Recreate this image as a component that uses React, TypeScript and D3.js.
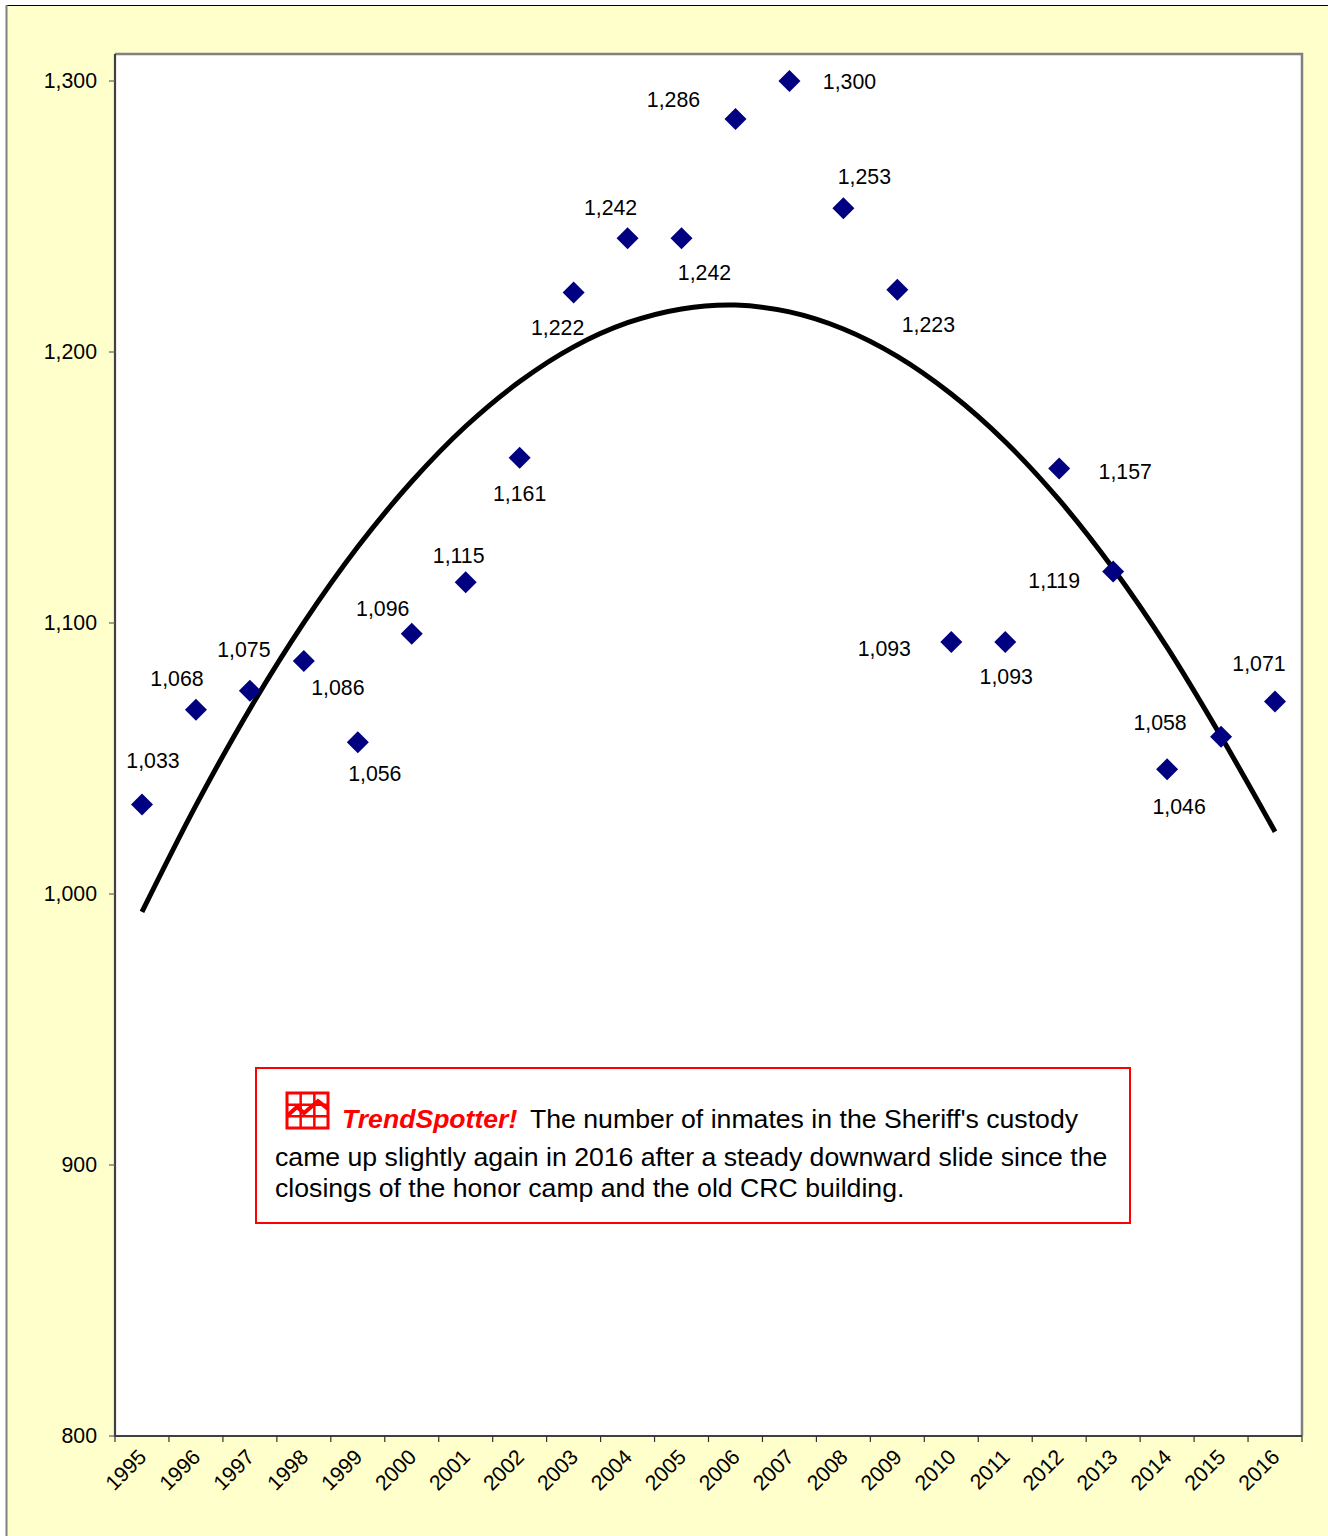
import React from "react";
import * as d3 from "d3";

const years = ["1995","1996","1997","1998","1999","2000","2001","2002","2003","2004","2005","2006","2007","2008","2009","2010","2011","2012","2013","2014","2015","2016"];
const inmates = [1033,1068,1075,1086,1056,1096,1115,1161,1222,1242,1242,1286,1300,1253,1223,1093,1093,1157,1119,1046,1058,1071];
const trend = [993.4,1032.7,1068.3,1100.1,1128.1,1152.2,1172.6,1189.1,1201.9,1210.8,1215.9,1217.3,1214.8,1208.5,1198.4,1184.5,1166.9,1145.4,1120.1,1091,1058.1,1023];
const yTicks = [800,900,1000,1100,1200,1300];
const labelDx = [11,-19,-6,34,17,-29,-7,0,-16,-17,23,-62,60,21,31,-67,1,66,-59,12,-61,-16];
const labelDy = [-44,-31,-41,27,31,-25,-27,36,35,-31,34,-19,1,-32,35,7,35,3,9,37,-14,-38];
const note1 = "The number of inmates in the Sheriff's custody";
const note2 = "came up slightly again in 2016 after a steady downward slide since the";
const note3 = "closings of the honor camp and the old CRC building.";

const FONT = "'Liberation Sans', Arial, sans-serif";

export default function App() {
  const L = 115, R = 1302, T = 54, B = 1436;
  const x = d3.scaleBand<string>().domain(years).range([L, R]);
  const y = d3.scaleLinear().domain([800, 1300]).range([B, 81]);
  const cx = (yr: string) => x(yr)! + x.bandwidth() / 2;
  const trendPath = d3.line<number>().x((_, i) => cx(years[i])).y(d => y(d)).curve(d3.curveCatmullRom)(trend)!;
  const s = 11;
  const ic = { x: 287, y: 1093, w: 41, h: 35 };
  return (
    <svg width={1328} height={1536} style={{ position: "absolute", left: 0, top: 0, display: "block" }} fontFamily={FONT}>
      <rect x={0} y={0} width={1328} height={1536} fill="#fff" />
      <rect x={6} y={5.5} width={1330} height={1540} fill="#ffffcc" />
      <line x1={6} x2={1328} y1={5.5} y2={5.5} stroke="#000" strokeWidth={1} />
      <line x1={6.5} x2={6.5} y1={5} y2={1536} stroke="#808080" strokeWidth={2} />
      <rect x={L} y={T} width={R - L} height={B - T} fill="#fff" />
      <path d={`M${L},${T}H${R}V${B}`} fill="none" stroke="#808080" strokeWidth={2.5} />
      <path d={`M${L},${T}V${B}H${R}`} fill="none" stroke="#404040" strokeWidth={2.2} />
      {yTicks.map(t => (
        <g key={t}>
          <line x1={L - 6} x2={L} y1={y(t)} y2={y(t)} stroke="#606060" strokeWidth={1.2} />
          <text x={97} y={y(t)} dy="0.35em" textAnchor="end" fontSize={21.3} fill="#000">{d3.format(",")(t)}</text>
        </g>
      ))}
      {[...years, ""].map((yr, i) => {
        const px = L + i * x.step();
        return <line key={i} x1={px} x2={px} y1={B} y2={B + 6} stroke="#303030" strokeWidth={1.2} />;
      })}
      {years.map(yr => (
        <text key={yr} transform={`translate(${cx(yr) + 0.5},${B + 17}) rotate(-45)`} textAnchor="end" dy="0.35em" fontSize={21.3} fill="#000">{yr}</text>
      ))}
      <path d={trendPath} fill="none" stroke="#000" strokeWidth={5} />
      {inmates.map((v, i) => {
        const px = cx(years[i]), py = y(v);
        return (
          <g key={i}>
            <path d={`M${px},${py - s}L${px + s},${py}L${px},${py + s}L${px - s},${py}Z`} fill="#000080" />
            <text x={px + labelDx[i]} y={py + labelDy[i]} dy="0.35em" textAnchor="middle" fontSize={21.3} fill="#000">{d3.format(",")(v)}</text>
          </g>
        );
      })}
      <rect x={256} y={1068} width={874} height={155} fill="#fff" stroke="#ff0000" strokeWidth={2} />
      <g stroke="#ff0000" fill="none">
        <rect x={ic.x} y={ic.y} width={ic.w} height={ic.h} strokeWidth={3} />
        {[1, 2].map(k => <line key={k} x1={ic.x + k * ic.w / 3} x2={ic.x + k * ic.w / 3} y1={ic.y} y2={ic.y + ic.h} strokeWidth={2.5} />)}
        {[1, 2].map(k => <line key={k} x1={ic.x} x2={ic.x + ic.w} y1={ic.y + k * ic.h / 3} y2={ic.y + k * ic.h / 3} strokeWidth={2.5} />)}
        <path d={`M${ic.x},${ic.y + 23}L${ic.x + 10},${ic.y + 14}L${ic.x + 17},${ic.y + 20}L${ic.x + 31},${ic.y + 8}L${ic.x + 41},${ic.y + 16}`} strokeWidth={4} />
      </g>
      <text x={342} y={1128} fontSize={26.6} fontWeight="bold" fontStyle="italic" fill="#ff0000">TrendSpotter!</text>
      <text x={530} y={1128} fontSize={26.65} fill="#000">{note1}</text>
      <text x={275} y={1166} fontSize={26.65} fill="#000">{note2}</text>
      <text x={275} y={1197} fontSize={26.65} fill="#000">{note3}</text>
    </svg>
  );
}
